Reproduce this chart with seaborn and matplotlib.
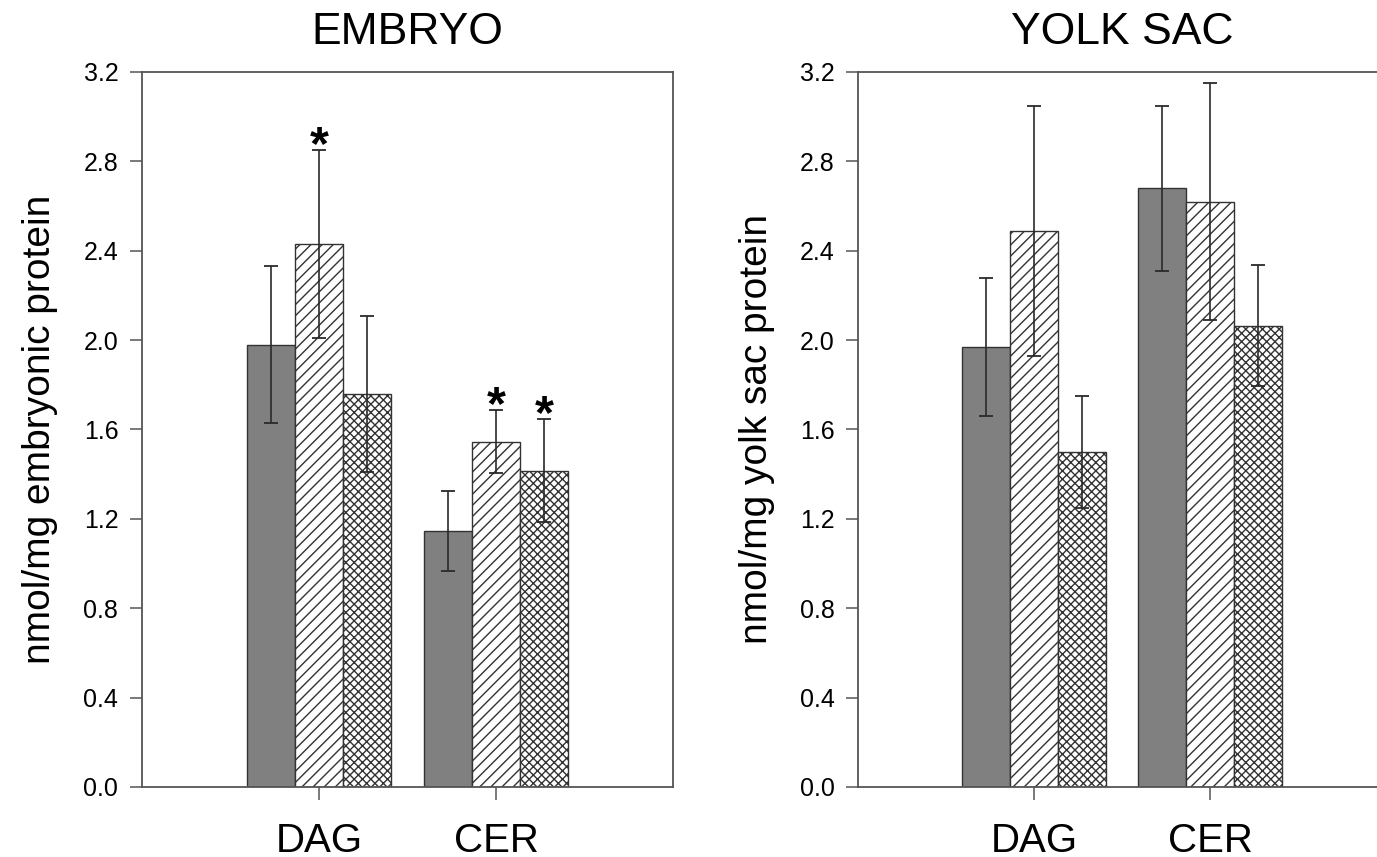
import numpy as np
import pandas as pd
import seaborn as sns
import matplotlib.pyplot as plt

# categories and groups
lipids = ['DAG', 'CER']
groups = ['solid', 'hatched', 'cross']

# EMBRYO panel (mean, error) per group, order DAG, CER
embryo_solid = [1.98, 1.145]
embryo_solid_err = [0.35, 0.18]
embryo_hatched = [2.43, 1.545]
embryo_hatched_err = [0.42, 0.14]
embryo_cross = [1.76, 1.415]
embryo_cross_err = [0.35, 0.23]
embryo_stars = [[False, False], [True, True], [False, True]]

# YOLK SAC panel
yolk_solid = [1.97, 2.68]
yolk_solid_err = [0.31, 0.37]
yolk_hatched = [2.49, 2.62]
yolk_hatched_err = [0.56, 0.53]
yolk_cross = [1.50, 2.065]
yolk_cross_err = [0.25, 0.27]
yolk_stars = [[False, False], [False, False], [False, False]]

y_ticks = [0.0, 0.4, 0.8, 1.2, 1.6, 2.0, 2.4, 2.8, 3.2]

bar_colors = ['#808080', 'white', 'white']
bar_hatches = ['', '///', 'xxxx']

sns.set_theme(style='ticks')
plt.rcParams['font.family'] = ['Liberation Sans', 'DejaVu Sans']
plt.rcParams['text.color'] = 'black'
plt.rcParams['axes.labelcolor'] = 'black'
plt.rcParams['hatch.linewidth'] = 1.0
plt.rcParams['hatch.color'] = '#1a1a1a'

fig = plt.figure(figsize=(13.77, 8.57), dpi=100)
ax1 = fig.add_axes([0.1031, 0.0817, 0.3856, 0.8343])
ax2 = fig.add_axes([0.6231, 0.0817, 0.3834, 0.8343])


def draw_panel(ax, title, ylabel, means, errs, stars):
    df = pd.DataFrame({
        'lipid': np.tile(lipids, len(groups)),
        'group': np.repeat(groups, len(lipids)),
        'value': np.concatenate(means),
    })
    sns.barplot(data=df, x='lipid', y='value', hue='group', order=lipids,
                hue_order=groups, palette=bar_colors, edgecolor='#333333',
                linewidth=1.0, width=0.815, errorbar=None, legend=False, ax=ax)

    bar_conts = list(ax.containers)
    for gi, cont in enumerate(bar_conts):
        xs = []
        for bar in cont:
            bar.set_hatch(bar_hatches[gi])
            xs.append(bar.get_x() + bar.get_width() / 2)
        ax.errorbar(xs, means[gi], yerr=errs[gi], fmt='none', ecolor='#2a2a2a',
                    elinewidth=1.2, capsize=5, capthick=1.3, zorder=5)
        for li, x in enumerate(xs):
            if stars[gi][li]:
                ax.annotate('*', xy=(x, means[gi][li] + errs[gi][li]),
                            xytext=(0, -6), textcoords='offset points',
                            ha='center', va='baseline', fontsize=35,
                            fontweight='bold', color='black')

    ax.set_xlim(-1, 2)
    ax.set_ylim(0, 3.2)
    ax.set_yticks(y_ticks)
    ax.set_yticklabels(['%.1f' % t for t in y_ticks])
    ax.set_xlabel('')
    ax.set_ylabel(ylabel, fontsize=28, labelpad=18, color='black')
    ax.set_title(title, fontsize=32, pad=20, color='black')
    ax.tick_params(axis='y', direction='out', length=9, width=1.1,
                   color='#555555', pad=8, labelsize=18, labelcolor='black')
    ax.tick_params(axis='x', direction='out', length=9, width=1.1,
                   color='#555555', pad=16, labelsize=29, labelcolor='black')
    for sp in ax.spines.values():
        sp.set_visible(True)
        sp.set_color('#555555')
        sp.set_linewidth(1.3)


draw_panel(ax1, 'EMBRYO', 'nmol/mg embryonic protein',
           [embryo_solid, embryo_hatched, embryo_cross],
           [embryo_solid_err, embryo_hatched_err, embryo_cross_err], embryo_stars)
draw_panel(ax2, 'YOLK SAC', 'nmol/mg yolk sac protein',
           [yolk_solid, yolk_hatched, yolk_cross],
           [yolk_solid_err, yolk_hatched_err, yolk_cross_err], yolk_stars)

fig.savefig('out.png', dpi=100)
